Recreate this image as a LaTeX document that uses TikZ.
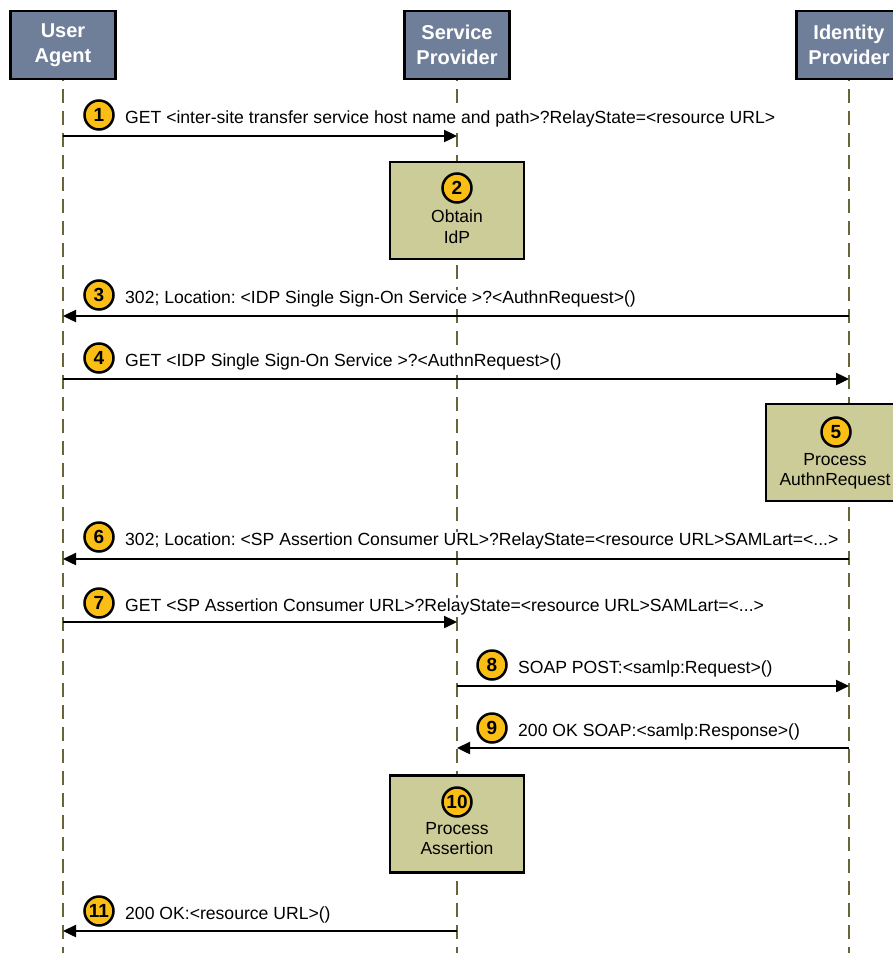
\documentclass[tikz,border=0pt]{standalone}
\usepackage{fontspec}
\setmainfont{Liberation Sans}
\usetikzlibrary{arrows.meta}
\definecolor{headfill}{RGB}{111,127,154}
\definecolor{actfill}{RGB}{204,204,153}
\definecolor{lifecol}{RGB}{104,102,56}
\definecolor{badgefill}{RGB}{250,190,20}
\tikzset{
  head/.style={draw=black, line width=2.6pt, fill=headfill, minimum width=105pt,
    minimum height=68pt, text=white, align=center, inner sep=0pt,
    font=\fontsize{20}{25}\selectfont\bfseries},
  lifeline/.style={lifecol, line width=2.6pt, dash pattern=on 14pt off 8pt},
  act/.style={draw=black, line width=2.6pt, fill=actfill, minimum width=134pt, minimum height=97pt},
  badge/.style={circle, draw=black, line width=2.5pt, fill=badgefill, minimum size=29pt,
    inner sep=0pt, font=\fontsize{19}{19}\selectfont\bfseries},
  msg/.style={draw=black, line width=2.4pt, -{Triangle[length=13pt,width=12pt]}},
  lbl/.style={anchor=base west, font=\fontsize{17.6}{20}\selectfont, inner sep=1pt, fill=white},
  acttext/.style={font=\fontsize{17.5}{20.5}\selectfont, align=center, inner sep=0pt}
}
\begin{document}
\frenchspacing
\begin{tikzpicture}[x=1pt, y=-1pt]
\useasboundingbox (0,0) rectangle (893,953);
\clip (0,0) rectangle (893,953);

% participant positions and lifeline ends
\coordinate (uaC)  at (63,45);
\coordinate (spC)  at (457,45);
\coordinate (idpC) at (849,45);
\coordinate (uaEnd)  at (63,953);
\coordinate (spEnd)  at (457,953);
\coordinate (idpEnd) at (849,953);

% lifelines
\draw[lifeline] (uaC)  -- (uaEnd);
\draw[lifeline] (spC)  -- (spEnd);
\draw[lifeline] (idpC) -- (idpEnd);

% participants
\node[head] (ua)  at (uaC)  {User\\Agent};
\node[head] (sp)  at (spC)  {Service\\Provider};
\node[head] (idp) at (idpC) {Identity\\Provider};

% message anchor points on the lifelines
\foreach \n/\y in {1/136,3/316,4/379,6/559,7/622,11/931}
  \coordinate (ua\n) at (63,\y);
\foreach \n/\y in {1/136,3/316,4/379,6/559,7/622,8/686,9/748,11/931}
  \coordinate (sp\n) at (457,\y);
\foreach \n/\y in {3/316,4/379,6/559,8/686,9/748}
  \coordinate (idp\n) at (849,\y);

% activation boxes
\node[act] (a2) at (457,210.5) {};
\node[badge] (b2) at (457,188) {2};
\node[acttext, anchor=north] (t2) at (457,210) {Obtain\\IdP};

\node[act, minimum width=138pt] (a5) at (835,452.5) {};
\node[badge] (b5) at (836,432) {5};
\node[acttext, anchor=north] (t5) at (835,453) {Process\\AuthnRequest};

\node[act] (a10) at (457,824) {};
\node[badge] (b10) at (457,802) {10};
\node[acttext, anchor=north] (t10) at (457,822) {Process\\Assertion};

% messages
\node[badge] (b1) at (99,115) {1};
\node[lbl] (l1) at (124,123.5) {GET <inter-site transfer service host name and path>?RelayState=<resource URL>};
\draw[msg] (ua1) -- (sp1);

\node[badge] (b3) at (99,295) {3};
\node[lbl] (l3) at (124,303.5) {302; Location: <IDP Single Sign-On Service >?<AuthnRequest>()};
\draw[msg] (idp3) -- (ua3);

\node[badge] (b4) at (99,358) {4};
\node[lbl] (l4) at (124,366.5) {GET <IDP Single Sign-On Service >?<AuthnRequest>()};
\draw[msg] (ua4) -- (idp4);

\node[badge] (b6) at (99,537) {6};
\node[lbl] (l6) at (124,545.5) {302; Location: <SP Assertion Consumer URL>?RelayState=<resource URL>SAMLart=<...>};
\draw[msg] (idp6) -- (ua6);

\node[badge] (b7) at (99,603) {7};
\node[lbl] (l7) at (124,611.5) {GET <SP Assertion Consumer URL>?RelayState=<resource URL>SAMLart=<...>};
\draw[msg] (ua7) -- (sp7);

\node[badge] (b8) at (492,665) {8};
\node[lbl] (l8) at (517,673.5) {SOAP POST:<samlp:Request>()};
\draw[msg] (sp8) -- (idp8);

\node[badge] (b9) at (492,728) {9};
\node[lbl] (l9) at (517,736.5) {200 OK SOAP:<samlp:Response>()};
\draw[msg] (idp9) -- (sp9);

\node[badge] (b11) at (99,911) {11};
\node[lbl] (l11) at (124,919.5) {200 OK:<resource URL>()};
\draw[msg] (sp11) -- (ua11);
\end{tikzpicture}
\end{document}
